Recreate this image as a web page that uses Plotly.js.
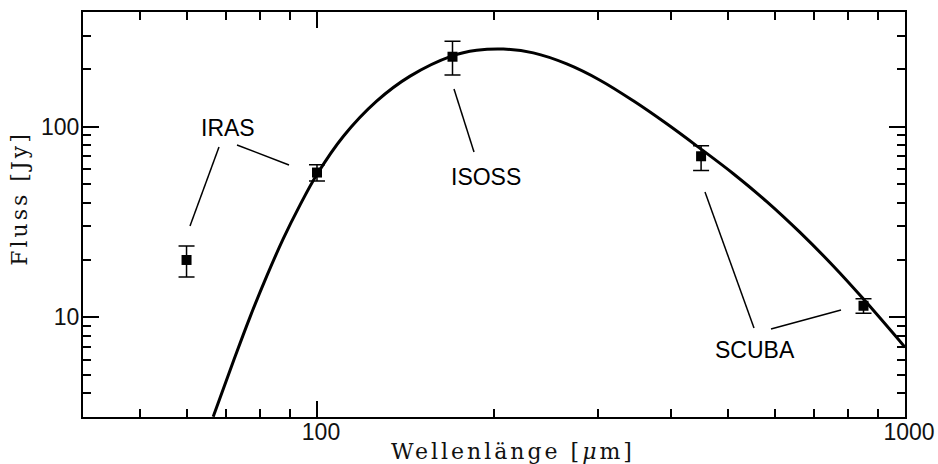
<!DOCTYPE html>
<html>
<head>
<meta charset="utf-8">
<script src="https://cdn.plot.ly/plotly-3.0.1.min.js"></script>
<style>
  html, body { margin: 0; padding: 0; background: #ffffff; }
  #chart { width: 938px; height: 464px; }
  /* wide-set serif axis titles */
  #chart .xtitle, #chart .ytitle { letter-spacing: 3px; }
  #chart .xtitle { translate: 19px 0px; }
  #chart .ytitle { translate: 0px -16px; }
  /* tick labels sit close to the frame */
  #chart .xtick text { translate: 4px -7px; }
  #chart .ytick text { translate: 3px 0px; }
</style>
</head>
<body>
<div id="chart"></div>
<script>
// Measured flux densities of the source (wavelength in µm, flux in Jy)
const wavelengths = [60, 100, 170, 450, 850];
const fluxes      = [20, 57.5, 233, 70, 11.5];
const errPlus     = [3.7, 5.7, 48, 9.5, 1.0];
const errMinus    = [3.7, 5.6, 46, 11, 1.0];

// Fitted dust emission curve
const fitWavelengths = [66.6, 72.1, 76.9, 82.1, 87.6, 93.6, 99.9, 110.9, 126.3, 144.0,
                        169.4, 186.9, 207.5, 233.3, 265.9, 302.9, 345.1, 393.4, 448.2,
                        510.6, 582.0, 662.9, 755.1, 849.2, 1000];
const fitFluxes      = [3.01, 5.90, 10.0, 16.4, 25.8, 38.9, 56.0, 89.2, 136.3, 184.4,
                        234.8, 251.7, 255.8, 244.0, 213.6, 175.5, 136.8, 103.6, 77.0,
                        56.7, 40.5, 27.9, 18.6, 12.5, 6.97];

// Axis ticks
const xMajorTicks = [100, 1000];
const xMinorTicks = [50, 60, 70, 80, 90, 200, 300, 400, 500, 600, 700, 800, 900];
const yMajorTicks = [10, 100];
const yMinorTicks = [4, 5, 6, 7, 8, 9, 20, 30, 40, 50, 60, 70, 80, 90, 200, 300];

// Instrument labels
const labels = ['IRAS', 'ISOSS', 'SCUBA'];

// Plot-area geometry (pixels)
const W = 938, H = 464;
const M = { l: 83, r: 33, t: 12, b: 47 };
const PW = W - M.l - M.r, PH = H - M.t - M.b;
const px = x => (x - M.l) / PW;
const py = y => (M.t + PH - y) / PH;

// Label placement and leader lines (pixel positions inside the figure)
const labelPos = { IRAS: [228, 128], ISOSS: [486, 177], SCUBA: [755, 350] };
const leaders = [
  [219, 147, 190, 226],
  [237, 145, 289, 165],
  [454, 89, 474, 152],
  [705, 192, 754, 328],
  [771, 329, 841, 310]
];

const curve = {
  x: fitWavelengths, y: fitFluxes,
  type: 'scatter', mode: 'lines',
  line: { color: '#000000', width: 3, shape: 'spline', smoothing: 1 },
  hoverinfo: 'skip', showlegend: false
};

const points = {
  x: wavelengths, y: fluxes,
  type: 'scatter', mode: 'markers',
  marker: { symbol: 'square', size: 10, color: '#000000' },
  error_y: {
    type: 'data', symmetric: false,
    array: errPlus, arrayminus: errMinus,
    color: '#000000', thickness: 1.5, width: 8
  },
  showlegend: false
};

const axisCommon = {
  type: 'log',
  showgrid: false, zeroline: false,
  showline: true, linecolor: '#000000', linewidth: 2,
  mirror: 'allticks',
  ticks: 'inside', ticklen: 16, tickwidth: 2, tickcolor: '#000000',
  tickfont: { family: 'Liberation Sans, Arial, sans-serif', size: 23, color: '#111111' }
};

const titleFont = { family: 'DejaVu Serif, serif', size: 22, color: '#111111' };

const layout = {
  width: W, height: H,
  margin: M,
  paper_bgcolor: '#ffffff', plot_bgcolor: '#ffffff',
  showlegend: false,
  xaxis: Object.assign({}, axisCommon, {
    range: [Math.log10(40), 3],
    tickvals: xMajorTicks, ticktext: xMajorTicks.map(String),
    minor: { tickvals: xMinorTicks, ticks: 'inside', ticklen: 8, tickwidth: 2, tickcolor: '#000000', showgrid: false },
    title: { text: 'Wellenlänge [<i>μ</i>m]', font: titleFont, standoff: 4 }
  }),
  yaxis: Object.assign({}, axisCommon, {
    range: [Math.log10(3), Math.log10(400)],
    tickvals: yMajorTicks, ticktext: yMajorTicks.map(String),
    minor: { tickvals: yMinorTicks, ticks: 'inside', ticklen: 8, tickwidth: 2, tickcolor: '#000000', showgrid: false },
    title: { text: 'Fluss [Jy]', font: titleFont, standoff: 4 }
  }),
  annotations: labels.map(name => ({
    text: name, xref: 'paper', yref: 'paper',
    x: px(labelPos[name][0]), y: py(labelPos[name][1]),
    xanchor: 'center', yanchor: 'middle', showarrow: false,
    font: { family: 'Liberation Sans, Arial, sans-serif', size: 23, color: '#000000' }
  })),
  shapes: leaders.map(([x0, y0, x1, y1]) => ({
    type: 'line', xref: 'paper', yref: 'paper',
    x0: px(x0), y0: py(y0), x1: px(x1), y1: py(y1),
    line: { color: '#000000', width: 1.5 }
  }))
};

Plotly.newPlot('chart', [curve, points], layout, { staticPlot: true, displayModeBar: false });
</script>
</body>
</html>
